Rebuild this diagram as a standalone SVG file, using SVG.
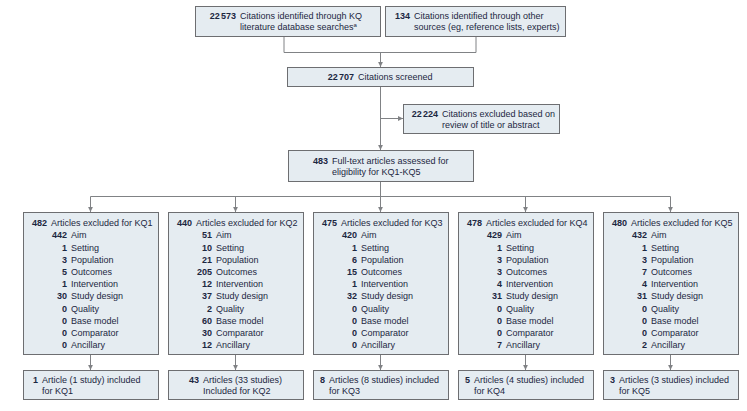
<svg xmlns="http://www.w3.org/2000/svg" width="747" height="411" viewBox="0 0 747 411">
<style>
.box{fill:#e5ecf1;stroke:#6d6e71;stroke-width:1}
text{font-family:"Liberation Sans",Arial,sans-serif;font-size:9px;fill:#1c2741}
.n{font-weight:bold;text-anchor:end}
.c{fill:none;stroke:#808285;stroke-width:1}
</style>
<defs>
<marker id="ah" markerUnits="userSpaceOnUse" markerWidth="6" markerHeight="6" refX="5" refY="3" orient="auto">
<path d="M0,0.6 L5,3 L0,5.4 Z" fill="#808285"/>
</marker>
</defs>
<rect width="747" height="411" fill="#ffffff"/>

<g id="connectors">
<path class="c" d="M284,36.5 V52.5 H476 V36.5"/>
<path class="c" d="M380.5,52.5 V67" marker-end="url(#ah)"/>
<path class="c" d="M380.5,86.5 V150" marker-end="url(#ah)"/>
<path class="c" d="M380.5,118.5 H403" marker-end="url(#ah)"/>
<path class="c" d="M380.5,181.5 V196.5"/>
<path class="c" d="M90.5,196.5 H670.5"/>
<path class="c" d="M90.5,196.5 V212" marker-end="url(#ah)"/>
<path class="c" d="M235.5,196.5 V212" marker-end="url(#ah)"/>
<path class="c" d="M380.5,196.5 V212" marker-end="url(#ah)"/>
<path class="c" d="M525.5,196.5 V212" marker-end="url(#ah)"/>
<path class="c" d="M670.5,196.5 V212" marker-end="url(#ah)"/>
<path class="c" d="M90.5,354.5 V370" marker-end="url(#ah)"/>
<path class="c" d="M235.5,354.5 V370" marker-end="url(#ah)"/>
<path class="c" d="M380.5,354.5 V370" marker-end="url(#ah)"/>
<path class="c" d="M525.5,354.5 V370" marker-end="url(#ah)"/>
<path class="c" d="M670.5,354.5 V370" marker-end="url(#ah)"/>
</g>

<g id="n-database">
<rect class="box" x="195.5" y="6.5" width="185" height="30"/>
<text class="n" x="236" y="19">22<tspan dx="1.2">573</tspan></text>
<text x="240" y="19">Citations identified through KQ</text>
<text x="240" y="30">literature database searches<tspan font-size="6" dy="-3">a</tspan></text>
</g>

<g id="n-other">
<rect class="box" x="385.5" y="6.5" width="180" height="30"/>
<text class="n" x="410" y="19">134</text>
<text x="414" y="19">Citations identified through other</text>
<text x="414" y="30">sources (eg, reference lists, experts)</text>
</g>

<g id="n-screened">
<rect class="box" x="287.5" y="67.5" width="186" height="19"/>
<text class="n" x="354" y="80">22<tspan dx="1.2">707</tspan></text>
<text x="358" y="80">Citations screened</text>
</g>

<g id="n-excluded-title">
<rect class="box" x="403.5" y="104.5" width="156" height="29"/>
<text class="n" x="438" y="116.5">22<tspan dx="1.2">224</tspan></text>
<text x="442" y="116.5">Citations excluded based on</text>
<text x="442" y="127.5">review of title or abstract</text>
</g>

<g id="n-fulltext">
<rect class="box" x="288.5" y="150.5" width="185" height="31"/>
<text class="n" x="328" y="163.5">483</text>
<text x="332" y="163.5">Full-text articles assessed for</text>
<text x="332" y="174.5">eligibility for KQ1-KQ5</text>
</g>

<g id="n-excl-kq1" transform="translate(23,0)">
<rect class="box" x="0.5" y="212.5" width="135" height="142"/>
<text class="n" x="24" y="226">482</text><text x="28" y="226">Articles excluded for KQ1</text>
<text class="n" x="44" y="238.2">442</text><text x="48" y="238.2">Aim</text>
<text class="n" x="44" y="250.5">1</text><text x="48" y="250.5">Setting</text>
<text class="n" x="44" y="262.7">3</text><text x="48" y="262.7">Population</text>
<text class="n" x="44" y="274.9">5</text><text x="48" y="274.9">Outcomes</text>
<text class="n" x="44" y="287.2">1</text><text x="48" y="287.2">Intervention</text>
<text class="n" x="44" y="299.4">30</text><text x="48" y="299.4">Study design</text>
<text class="n" x="44" y="311.6">0</text><text x="48" y="311.6">Quality</text>
<text class="n" x="44" y="323.8">0</text><text x="48" y="323.8">Base model</text>
<text class="n" x="44" y="336.1">0</text><text x="48" y="336.1">Comparator</text>
<text class="n" x="44" y="348.3">0</text><text x="48" y="348.3">Ancillary</text>
</g>

<g id="n-excl-kq2" transform="translate(168,0)">
<rect class="box" x="0.5" y="212.5" width="135" height="142"/>
<text class="n" x="24" y="226">440</text><text x="28" y="226">Articles excluded for KQ2</text>
<text class="n" x="44" y="238.2">51</text><text x="48" y="238.2">Aim</text>
<text class="n" x="44" y="250.5">10</text><text x="48" y="250.5">Setting</text>
<text class="n" x="44" y="262.7">21</text><text x="48" y="262.7">Population</text>
<text class="n" x="44" y="274.9">205</text><text x="48" y="274.9">Outcomes</text>
<text class="n" x="44" y="287.2">12</text><text x="48" y="287.2">Intervention</text>
<text class="n" x="44" y="299.4">37</text><text x="48" y="299.4">Study design</text>
<text class="n" x="44" y="311.6">2</text><text x="48" y="311.6">Quality</text>
<text class="n" x="44" y="323.8">60</text><text x="48" y="323.8">Base model</text>
<text class="n" x="44" y="336.1">30</text><text x="48" y="336.1">Comparator</text>
<text class="n" x="44" y="348.3">12</text><text x="48" y="348.3">Ancillary</text>
</g>

<g id="n-excl-kq3" transform="translate(313,0)">
<rect class="box" x="0.5" y="212.5" width="135" height="142"/>
<text class="n" x="24" y="226">475</text><text x="28" y="226">Articles excluded for KQ3</text>
<text class="n" x="44" y="238.2">420</text><text x="48" y="238.2">Aim</text>
<text class="n" x="44" y="250.5">1</text><text x="48" y="250.5">Setting</text>
<text class="n" x="44" y="262.7">6</text><text x="48" y="262.7">Population</text>
<text class="n" x="44" y="274.9">15</text><text x="48" y="274.9">Outcomes</text>
<text class="n" x="44" y="287.2">1</text><text x="48" y="287.2">Intervention</text>
<text class="n" x="44" y="299.4">32</text><text x="48" y="299.4">Study design</text>
<text class="n" x="44" y="311.6">0</text><text x="48" y="311.6">Quality</text>
<text class="n" x="44" y="323.8">0</text><text x="48" y="323.8">Base model</text>
<text class="n" x="44" y="336.1">0</text><text x="48" y="336.1">Comparator</text>
<text class="n" x="44" y="348.3">0</text><text x="48" y="348.3">Ancillary</text>
</g>

<g id="n-excl-kq4" transform="translate(458,0)">
<rect class="box" x="0.5" y="212.5" width="135" height="142"/>
<text class="n" x="24" y="226">478</text><text x="28" y="226">Articles excluded for KQ4</text>
<text class="n" x="44" y="238.2">429</text><text x="48" y="238.2">Aim</text>
<text class="n" x="44" y="250.5">1</text><text x="48" y="250.5">Setting</text>
<text class="n" x="44" y="262.7">3</text><text x="48" y="262.7">Population</text>
<text class="n" x="44" y="274.9">3</text><text x="48" y="274.9">Outcomes</text>
<text class="n" x="44" y="287.2">4</text><text x="48" y="287.2">Intervention</text>
<text class="n" x="44" y="299.4">31</text><text x="48" y="299.4">Study design</text>
<text class="n" x="44" y="311.6">0</text><text x="48" y="311.6">Quality</text>
<text class="n" x="44" y="323.8">0</text><text x="48" y="323.8">Base model</text>
<text class="n" x="44" y="336.1">0</text><text x="48" y="336.1">Comparator</text>
<text class="n" x="44" y="348.3">7</text><text x="48" y="348.3">Ancillary</text>
</g>

<g id="n-excl-kq5" transform="translate(603,0)">
<rect class="box" x="0.5" y="212.5" width="135" height="142"/>
<text class="n" x="24" y="226">480</text><text x="28" y="226">Articles excluded for KQ5</text>
<text class="n" x="44" y="238.2">432</text><text x="48" y="238.2">Aim</text>
<text class="n" x="44" y="250.5">1</text><text x="48" y="250.5">Setting</text>
<text class="n" x="44" y="262.7">3</text><text x="48" y="262.7">Population</text>
<text class="n" x="44" y="274.9">7</text><text x="48" y="274.9">Outcomes</text>
<text class="n" x="44" y="287.2">4</text><text x="48" y="287.2">Intervention</text>
<text class="n" x="44" y="299.4">31</text><text x="48" y="299.4">Study design</text>
<text class="n" x="44" y="311.6">0</text><text x="48" y="311.6">Quality</text>
<text class="n" x="44" y="323.8">0</text><text x="48" y="323.8">Base model</text>
<text class="n" x="44" y="336.1">0</text><text x="48" y="336.1">Comparator</text>
<text class="n" x="44" y="348.3">2</text><text x="48" y="348.3">Ancillary</text>
</g>

<g id="n-incl-kq1" transform="translate(23,0)">
<rect class="box" x="0.5" y="370.5" width="135" height="29"/>
<text class="n" x="15" y="383">1</text><text x="19" y="383">Article (1 study) included</text>
<text x="19" y="394">for KQ1</text>
</g>
<g id="n-incl-kq2" transform="translate(168,0)">
<rect class="box" x="0.5" y="370.5" width="135" height="29"/>
<text class="n" x="31" y="383">43</text><text x="35" y="383">Articles (33 studies)</text>
<text x="35" y="394">Included for KQ2</text>
</g>
<g id="n-incl-kq3" transform="translate(313,0)">
<rect class="box" x="0.5" y="370.5" width="135" height="29"/>
<text class="n" x="12" y="383">8</text><text x="16" y="383">Articles (8 studies) included</text>
<text x="16" y="394">for KQ3</text>
</g>
<g id="n-incl-kq4" transform="translate(458,0)">
<rect class="box" x="0.5" y="370.5" width="135" height="29"/>
<text class="n" x="12" y="383">5</text><text x="16" y="383">Articles (4 studies) included</text>
<text x="16" y="394">for KQ4</text>
</g>
<g id="n-incl-kq5" transform="translate(603,0)">
<rect class="box" x="0.5" y="370.5" width="135" height="29"/>
<text class="n" x="12" y="383">3</text><text x="16" y="383">Articles (3 studies) included</text>
<text x="16" y="394">for KQ5</text>
</g>
</svg>
